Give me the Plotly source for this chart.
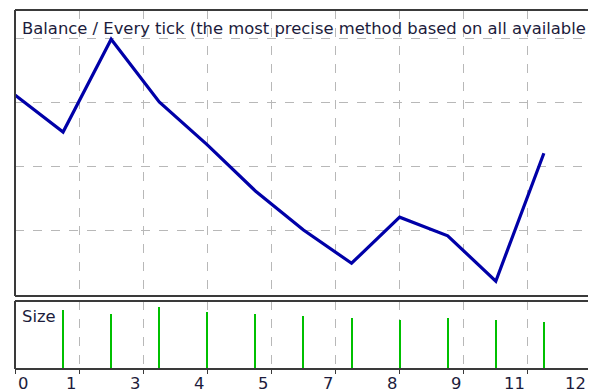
import plotly.graph_objects as go

# ---- data ----
trade_index = [0, 1, 2, 3, 4, 5, 6, 7, 8, 9, 10, 11]
balance = [10011, 9953, 10098, 10000, 9933, 9861, 9800, 9748, 9820, 9791, 9720, 9920]
size_trades = [1, 2, 3, 4, 5, 6, 7, 8, 9, 10, 11]
sizes = [0.59, 0.55, 0.62, 0.57, 0.55, 0.53, 0.51, 0.49, 0.51, 0.49, 0.47]
grid_x = [0, 1.3333, 2.6667, 4, 5.3333, 6.6667, 8, 9.3333, 10.6667, 12]
tick_labels = ["0", "1", "3", "4", "5", "7", "8", "9", "11", "12"]
grid_y = [9800, 9900, 10000, 10100]
title_text = "Balance / Every tick (the most precise method based on all available"
size_text = "Size"

W, H = 599, 392
L, R = 15, 11
PW = W - L - R
px_per_unit = 48.08
x_max = PW / px_per_unit

def fy(p):
    return 1 - p / H

FONT = "DejaVu Sans"
TXT = "#1c1c3c"
FRAME = "#3a3a3a"
GRID = "#b8b8b8"

fig = go.Figure()
fig.add_trace(go.Scatter(x=trade_index, y=balance, mode="lines",
                         line=dict(color="#0000a8", width=3.2),
                         xaxis="x", yaxis="y", hoverinfo="skip"))
fig.add_trace(go.Bar(x=size_trades, y=sizes, width=2 / px_per_unit,
                     marker=dict(color="#00c000", line=dict(width=0)),
                     xaxis="x2", yaxis="y2", hoverinfo="skip"))

axis_common = dict(range=[0, x_max], tickvals=grid_x, showticklabels=False,
                   showgrid=True, gridcolor=GRID, griddash="dash", gridwidth=1,
                   zeroline=False, showline=False, fixedrange=True)

fig.update_layout(
    width=W, height=H,
    margin=dict(l=L, r=R, t=0, b=0),
    paper_bgcolor="white", plot_bgcolor="white",
    showlegend=False,
    bargap=0,
    xaxis=dict(axis_common, domain=[0, 1], anchor="y", ticks=""),
    yaxis=dict(domain=[fy(296), fy(10)], range=[9696.875, 10143.75],
               tickvals=grid_y, showticklabels=False, showgrid=True,
               gridcolor=GRID, griddash="dash", gridwidth=1, zeroline=False,
               showline=False, fixedrange=True),
    xaxis2=dict(axis_common, domain=[0, 1], anchor="y2", ticks="outside",
                ticklen=4, tickwidth=1, tickcolor=FRAME),
    yaxis2=dict(domain=[fy(369), fy(301)], range=[0, 0.68], showticklabels=False,
                showgrid=False, zeroline=False, showline=False, fixedrange=True),
)

# frames (right edge of the reference is cropped, so no right border)
shapes = []
for top, bot in [(10, 296), (301, 369)]:
    shapes.append(dict(type="line", xref="paper", yref="paper", x0=0, x1=1,
                       y0=fy(top), y1=fy(top), line=dict(color=FRAME, width=2)))
    shapes.append(dict(type="line", xref="paper", yref="paper", x0=0, x1=1,
                       y0=fy(bot), y1=fy(bot), line=dict(color=FRAME, width=2)))
    shapes.append(dict(type="line", xref="paper", yref="paper", x0=0, x1=0,
                       y0=fy(top), y1=fy(bot), line=dict(color=FRAME, width=2)))
fig.update_layout(shapes=shapes)

ann = []
ann.append(dict(text=title_text, xref="paper", yref="paper", x=0, y=fy(17),
                xanchor="left", yanchor="top", xshift=5, showarrow=False,
                font=dict(family=FONT, size=16.4, color=TXT)))
ann.append(dict(text=size_text, xref="paper", yref="paper", x=0, y=fy(305),
                xanchor="left", yanchor="top", xshift=5, showarrow=False,
                font=dict(family=FONT, size=16.4, color=TXT)))
for i, (gx, lab) in enumerate(zip(grid_x, tick_labels)):
    px = gx / x_max  # paper coordinate of the gridline (may exceed 1 at the cropped edge)
    ann.append(dict(text=lab, xref="paper", yref="paper", x=px, y=fy(372),
                    xanchor="left" if i == 0 else "right", yanchor="top",
                    xshift=1 if i == 0 else (-4 if i == len(grid_x) - 1 else -1),
                    showarrow=False,
                    font=dict(family=FONT, size=16.4, color=TXT)))
fig.update_layout(annotations=ann)

fig.write_html("out.html", config={"displayModeBar": False},
               post_script="document.body.style.margin='0px';")
